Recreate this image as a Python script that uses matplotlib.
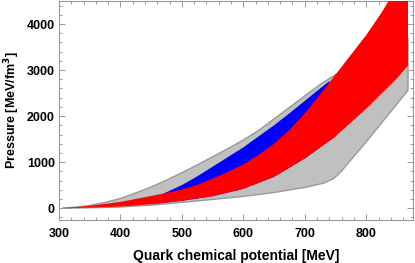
import matplotlib as mpl
mpl.use('Agg')
import matplotlib.pyplot as plt
from matplotlib.ticker import MultipleLocator
import numpy as np

# quark chemical potential [MeV] / pressure [MeV/fm^3]
mu_gray_up = [306, 330, 350, 375, 400, 425, 450, 475, 500, 525, 550, 575, 600, 625, 650, 675, 700, 725, 750, 762, 800, 868]
p_gray_up = [0, 25, 60, 125, 210, 330, 460, 610, 770, 940, 1115, 1295, 1480, 1690, 1940, 2190, 2440, 2690, 2900, 2990, 3350, 3700]
mu_gray_lo = [306, 350, 400, 450, 500, 550, 600, 650, 700, 730, 745, 752, 760, 800, 868]
p_gray_lo = [0, 8, 25, 65, 125, 190, 255, 340, 450, 540, 630, 700, 810, 1440, 2560]

mu_red_up = [306, 350, 400, 450, 475, 500, 525, 550, 575, 600, 625, 650, 675, 700, 725, 750, 775, 800, 825, 850, 868]
p_red_up = [0, 50, 135, 265, 330, 405, 505, 640, 790, 950, 1160, 1400, 1700, 2060, 2470, 2900, 3330, 3760, 4250, 4800, 5300]
mu_red_lo = [306, 350, 400, 450, 500, 550, 600, 650, 700, 750, 800, 850, 868]
p_red_lo = [0, 12, 35, 85, 160, 260, 420, 680, 1080, 1560, 2160, 2820, 3100]

mu_blue = [470, 500, 525, 550, 575, 600, 625, 650, 675, 700, 725, 740]
p_blue = [315, 500, 690, 900, 1110, 1320, 1560, 1800, 2060, 2330, 2600, 2760]

plt.rcParams['font.family'] = ['Liberation Sans', 'DejaVu Sans']
plt.rcParams['font.weight'] = 'bold'
plt.rcParams['font.size'] = 9

fig = plt.figure(figsize=(4.15, 2.63), dpi=100)
ax = fig.add_axes([0.142, 0.163, 0.853, 0.833])

ax.fill(mu_gray_up + mu_gray_lo[::-1], p_gray_up + p_gray_lo[::-1],
        facecolor='#c0c0c0', edgecolor='#9a9a9a', lw=1.0, zorder=1)

lo_sub = [(m, p) for m, p in zip(mu_red_lo, p_red_lo) if 450 <= m <= 750][::-1]
ax.fill(mu_blue + [m for m, p in lo_sub], p_blue + [p for m, p in lo_sub],
        facecolor='#0000ff', edgecolor='none', zorder=2)

ax.fill(mu_red_up + mu_red_lo[::-1], p_red_up + p_red_lo[::-1],
        facecolor='#ff0000', edgecolor='none', zorder=3)

ax.set_xlim(300, 876)
ax.set_ylim(-260, 4500)
ax.xaxis.set_major_locator(MultipleLocator(100))
ax.xaxis.set_minor_locator(MultipleLocator(20))
ax.yaxis.set_major_locator(MultipleLocator(1000))
ax.yaxis.set_minor_locator(MultipleLocator(200))

for s in ax.spines.values():
    s.set_color('#999999')
    s.set_linewidth(0.8)
ax.tick_params(which='both', direction='in', top=True, right=True, color='#999999', width=0.7)
ax.tick_params(which='major', length=4.5)
ax.tick_params(which='minor', length=2.5)
ax.tick_params(axis='x', pad=6)
ax.tick_params(axis='y', pad=3)

ax.set_xlabel('Quark chemical potential [MeV]', fontweight='bold', fontsize=10, labelpad=6)
ax.set_ylabel('Pressure [MeV/fm$^\\mathbf{3}$]', fontweight='bold', labelpad=3)

fig.savefig('out.png', dpi=100)
